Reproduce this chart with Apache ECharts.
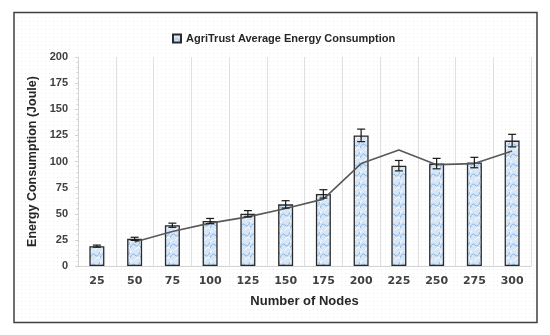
<!DOCTYPE html>
<html>
<head>
<meta charset="utf-8">
<script src="https://cdn.jsdelivr.net/npm/echarts@6/dist/echarts.min.js"></script>
<style>html,body{margin:0;padding:0;background:#fff;}#main{width:550px;height:335px;}</style>
</head>
<body>
<div id="main"></div>
<script>
const categories = ['25','50','75','100','125','150','175','200','225','250','275','300'];
const energy = [19, 26, 39, 43, 50, 59, 69, 125, 96, 98, 99, 120];
const errors = [1, 1.5, 2, 2.5, 3, 3.5, 4, 6, 5, 5, 5, 6];
const trend = [null, 23, 33, 41, 47, 55, 64, 98, 111, 97, 98, 110];
const yMin = 0, yMax = 200, yStep = 25;

function wavePattern() {
  const c = document.createElement('canvas');
  c.width = 10; c.height = 10;
  const g = c.getContext('2d');
  g.fillStyle = '#d6e6f6';
  g.fillRect(0, 0, 10, 10);
  g.strokeStyle = '#8db3dd';
  g.lineWidth = 1;
  g.beginPath();
  g.moveTo(0, 8); g.quadraticCurveTo(2.5, 2, 5, 5); g.quadraticCurveTo(7.5, 8, 10, 2);
  g.stroke();
  g.strokeStyle = '#ffffff';
  g.beginPath();
  g.moveTo(0, 3); g.quadraticCurveTo(2.5, -2, 5, 0); g.stroke();
  g.beginPath();
  g.moveTo(5, 10); g.quadraticCurveTo(7.5, 6, 10, 8); g.stroke();
  return c;
}
function dotPattern() {
  const c = document.createElement('canvas');
  c.width = 4; c.height = 4;
  const g = c.getContext('2d');
  g.fillStyle = '#ffffff';
  g.fillRect(0, 0, 4, 4);
  g.fillStyle = '#ececec';
  g.fillRect(1, 1, 1, 1);
  return c;
}
const barFill = { image: wavePattern(), repeat: 'repeat' };

const chart = echarts.init(document.getElementById('main'), null, { renderer: 'canvas' });
chart.setOption({
  backgroundColor: '#ffffff',
  animation: false,
  graphic: [{
    type: 'rect', z: -10, silent: true,
    shape: { x: 14, y: 12.5, width: 523, height: 310 },
    style: { fill: { image: dotPattern(), repeat: 'repeat' }, stroke: '#404040', lineWidth: 1.5 }
  }],
  legend: {
    data: [{ name: 'AgriTrust Average Energy Consumption', icon: 'rect' }],
    left: 167, top: 28,
    itemWidth: 8, itemHeight: 8, itemGap: 4,
    textStyle: { fontFamily: 'Liberation Sans', fontWeight: 'bold', fontSize: 11, color: '#262626' }
  },
  grid: { left: 78, right: 19, top: 57, bottom: 69 },
  xAxis: {
    type: 'category',
    data: categories,
    name: 'Number of Nodes',
    nameLocation: 'middle',
    nameGap: 29,
    nameTextStyle: { fontFamily: 'Liberation Sans', fontWeight: 'bold', fontSize: 13, color: '#262626' },
    axisLine: { lineStyle: { color: '#d4d4d4' } },
    axisTick: { show: false },
    splitLine: { show: true, lineStyle: { color: '#e0e0e0', width: 1 } },
    axisLabel: { fontFamily: 'DejaVu Sans', fontWeight: 'bold', fontSize: 11, color: '#404040', margin: 10 }
  },
  yAxis: {
    type: 'value',
    min: yMin, max: yMax, interval: yStep,
    name: 'Energy Consumption (Joule)',
    nameLocation: 'middle',
    nameGap: 39,
    nameTextStyle: { fontFamily: 'Liberation Sans', fontWeight: 'bold', fontSize: 12.5, color: '#262626' },
    axisLine: { show: true, lineStyle: { color: '#d4d4d4' } },
    axisTick: { show: true, length: 3, lineStyle: { color: '#d4d4d4' } },
    minorTick: { show: true, splitNumber: 5, length: 2, lineStyle: { color: '#e0e0e0' } },
    splitLine: { show: false },
    axisLabel: { fontFamily: 'Liberation Sans', fontWeight: 'bold', fontSize: 11, color: '#404040', margin: 10 }
  },
  series: [
    {
      name: 'AgriTrust Average Energy Consumption',
      type: 'bar',
      data: energy,
      barWidth: 15,
      itemStyle: { color: barFill, borderColor: '#2a2a2a', borderWidth: 1.3 }
    },
    {
      name: 'trend',
      type: 'line',
      data: trend,
      symbol: 'none',
      lineStyle: { color: '#595959', width: 1.6 },
      z: 3
    },
    {
      name: 'err',
      type: 'custom',
      z: 4,
      data: energy.map((v, i) => [i, v - errors[i], v + errors[i]]),
      renderItem: function (params, api) {
        const lo = api.coord([api.value(0), api.value(1)]);
        const hi = api.coord([api.value(0), api.value(2)]);
        const w = 4;
        const st = { stroke: '#1a1a1a', lineWidth: 1.2 };
        return {
          type: 'group',
          children: [
            { type: 'line', shape: { x1: hi[0], y1: hi[1], x2: lo[0], y2: lo[1] }, style: st },
            { type: 'line', shape: { x1: hi[0] - w, y1: hi[1], x2: hi[0] + w, y2: hi[1] }, style: st },
            { type: 'line', shape: { x1: lo[0] - w, y1: lo[1], x2: lo[0] + w, y2: lo[1] }, style: st }
          ]
        };
      }
    }
  ]
});
</script>
</body>
</html>
